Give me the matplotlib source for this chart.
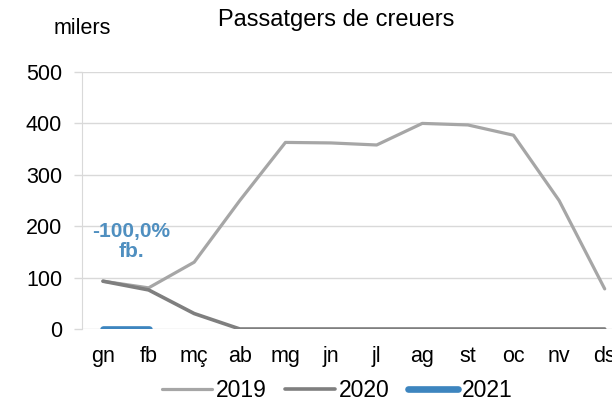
import matplotlib.pyplot as plt

plt.rcParams["font.family"] = ["Liberation Sans", "DejaVu Sans"]

MONTHS = ["gn", "fb", "mç", "ab", "mg", "jn", "jl", "ag", "st", "oc", "nv", "ds"]
Y2019 = [93, 80, 130, 250, 363, 362, 358, 400, 397, 377, 250, 78]
Y2020 = [93, 76, 30, 0, 0, 0, 0, 0, 0, 0, 0, 0]
Y2021 = [0, 0]

fig = plt.figure(figsize=(6.12, 4.05), dpi=100)
ax = fig.add_axes([0.134, 0.1877, 0.866, 0.6345])

x = list(range(len(MONTHS)))
ax.plot(x, Y2019, color="#a6a6a6", linewidth=2.3, label="2019", solid_capstyle="round")
ax.plot(x, Y2020, color="#7f7f7f", linewidth=2.6, label="2020", solid_capstyle="round")
ax.plot(x[:len(Y2021)], Y2021, color="#3d85bf", linewidth=4.8, label="2021", solid_capstyle="round")

ax.set_ylim(0, 500)
ax.set_yticks(range(0, 501, 100))
ax.set_xlim(-0.46, 11.16)
ax.set_xticks(x)
ax.set_xticklabels(MONTHS)
ax.grid(axis="y", color="#d9d9d9", linewidth=1)
ax.set_axisbelow(True)
for s in ["top", "right", "bottom"]:
    ax.spines[s].set_visible(False)
ax.spines["left"].set_color("#d9d9d9")
ax.tick_params(axis="y", length=5.8, width=1, color="#d9d9d9", labelsize=15.5, pad=8.5)
ax.tick_params(axis="x", length=0, labelsize=15.5, pad=12)

ax.text(0.62, 170, "-100,0%\nfb.", color="#4f8fc0", fontsize=15, fontweight="bold",
        ha="center", va="center", linespacing=1.1)

fig.text(0.55, 0.95, "Passatgers de creuers", fontsize=17, ha="center", va="center")
fig.text(0.134, 0.93, "milers", fontsize=15.5, ha="center", va="center")

fig.legend(loc="center", bbox_to_anchor=(0.551, 0.036), ncol=3, frameon=False,
           fontsize=16.5, handlelength=2.2, columnspacing=0.8, handletextpad=0.15,
           borderpad=0.2)

fig.savefig("out.png", dpi=100)
